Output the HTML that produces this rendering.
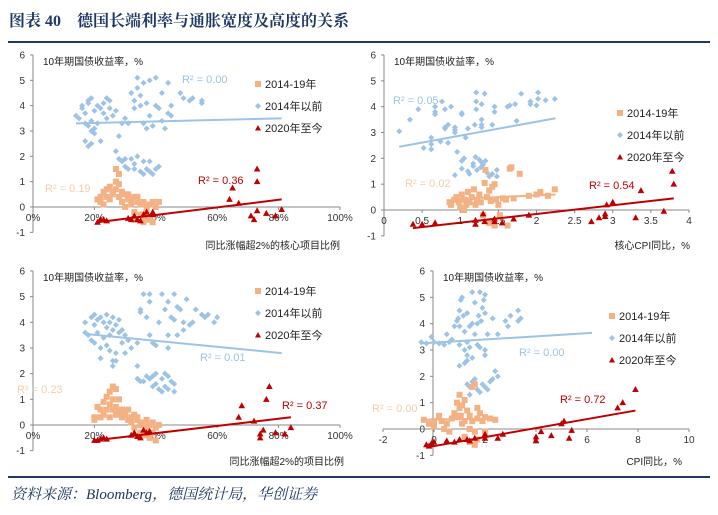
<!DOCTYPE html>
<html><head><meta charset="utf-8"><style>
html,body{margin:0;padding:0;background:#fff;width:718px;height:515px;overflow:hidden}
svg{display:block;font-family:"Liberation Sans","Noto Sans CJK SC",sans-serif}
</style></head><body>
<svg id="chart" width="718" height="515" viewBox="0 0 718 515">
<text x="9" y="26" font-size="16" font-weight="bold" fill="#1f3864" font-family="'Liberation Serif','Noto Serif CJK SC',serif">图表 40　德国长端利率与通胀宽度及高度的关系</text>
<rect x="8" y="41" width="702" height="2" fill="#1f3864"/>
<rect x="8" y="476" width="702" height="2" fill="#1f3864"/>
<text x="11" y="499" font-size="15" font-style="italic" fill="#1f3864" font-family="'Liberation Serif','Noto Serif CJK SC',serif">资料来源：Bloomberg，德国统计局，华创证券</text>
<g id="plots"></g>
</svg>
<script>
const yTicks=[-1,0,1,2,3,4,5,6];
const pctTicks=[0,20,40,60,80,100];
const coreTicks=[0,0.5,1,1.5,2,2.5,3,3.5,4];
const cpiTicks=[-2,0,2,4,6,8,10];
const legendLabels=["2014-19年","2014年以前","2020年至今"];

const p1Blue=[[14,3.6],[15,3.5],[16,3.9],[16,4.0],[17,3.7],[17,3.3],[18,4.1],[18,4.2],[18,3.2],[19,4.3],[19,3.0],[19,3.4],[20,3.8],[20,2.9],[20,3.1],[21,4.0],[21,3.3],[22,3.9],[22,2.6],[23,3.7],[23,4.1],[24,4.3],[24,3.5],[25,3.9],[25,4.2],[26,3.6],[27,3.8],[28,2.8],[27,2.2],[18,2.4],[17,2.6],[19,2.5],[29,3.3],[30,3.5],[31,3.3],[32,4.5],[33,4.2],[34,5.1],[34,4.7],[35,4.0],[36,4.9],[36,3.3],[37,4.1],[38,3.6],[38,5.0],[39,3.2],[40,4.0],[40,5.1],[41,3.9],[42,3.4],[43,3.1],[44,4.9],[45,3.6],[45,4.0],[48,4.5],[49,4.3],[51,4.2],[52,4.3],[55,4.1],[55,4.2],[33,3.9],[35,4.4],[37,3.1],[42,4.5],[44,3.7],[28,1.9],[29,1.8],[30,1.6],[31,1.5],[32,1.9],[33,1.5],[34,2.0],[35,1.4],[36,1.8],[37,1.5],[38,1.4],[38,1.8],[39,1.3],[40,1.5],[41,1.6],[36,1.3],[30,1.9],[33,1.7]];
const p1Orange=[[21,0.3],[22,0.2],[22,0.4],[23,0.1],[23,0.6],[24,0.7],[24,0.4],[25,0.8],[25,0.3],[26,0.6],[26,0.5],[27,1.0],[27,1.5],[27,0.7],[28,1.3],[28,0.9],[28,0.4],[29,0.6],[29,0.2],[30,0.5],[30,0.0],[31,0.3],[31,0.5],[32,0.1],[32,0.3],[33,0.4],[33,-0.2],[34,0.2],[34,0.4],[35,-0.3],[35,0.1],[36,-0.4],[36,0.2],[37,-0.1],[37,0.0],[38,0.1],[38,-0.5],[39,0.2],[39,-0.6],[40,0.0],[41,0.2],[33,-0.5],[36,-0.6]];
const p1Red=[[21,-0.6],[22,-0.5],[23,-0.5],[24,-0.55],[31,-0.45],[32,-0.5],[33,-0.35],[34,-0.5],[35,-0.55],[36,-0.3],[37,-0.2],[39,-0.3],[39,-0.2],[64,0.3],[65,0.75],[67,0.15],[71,-0.35],[72,-0.5],[73,1.5],[73,1.0],[73,-0.15],[76,-0.25],[79,-0.35],[81,-0.1]];
const p1BlueTrend=[[14,3.3],[81,3.5]];
const p1RedTrend=[[21,-0.6],[81,0.3]];

const p2Blue=[[0.2,3.05],[0.34,3.5],[0.45,3.9],[0.52,2.4],[0.62,2.35],[0.62,2.55],[0.62,2.8],[0.67,3.7],[0.67,3.8],[0.67,4.0],[0.74,2.65],[0.8,3.2],[0.8,3.15],[0.8,3.9],[0.76,4.2],[0.84,3.3],[0.84,2.6],[0.88,4.0],[0.93,3.0],[0.93,3.1],[0.93,3.2],[0.96,2.25],[1.02,3.75],[1.02,3.7],[1.07,2.8],[1.1,3.15],[1.19,3.3],[1.21,4.55],[1.21,4.2],[1.21,3.9],[1.28,4.1],[1.28,3.5],[1.28,3.3],[1.28,3.2],[1.32,4.5],[1.42,3.3],[1.45,3.8],[1.45,4.0],[1.62,4.0],[1.65,4.05],[1.72,4.1],[1.74,3.45],[1.8,4.5],[1.92,4.2],[1.92,4.1],[2.0,4.05],[2.02,4.55],[2.02,4.3],[2.12,4.25],[2.24,4.3],[0.93,1.35],[1.02,1.6],[1.02,1.9],[1.05,2.0],[1.1,1.5],[1.12,1.4],[1.17,1.7],[1.17,1.8],[1.2,2.05],[1.22,1.55],[1.25,1.95],[1.28,1.85],[1.3,1.75],[1.33,1.9],[1.35,1.45],[1.38,1.3],[1.42,1.4],[1.48,1.3],[1.48,1.55],[1.27,1.65]];
const p2Orange=[[0.86,0.3],[0.88,0.2],[0.92,0.4],[0.95,0.5],[0.98,0.3],[1.0,0.1],[1.02,0.6],[1.05,0.4],[1.05,0.0],[1.08,0.2],[1.1,0.7],[1.12,0.3],[1.15,0.5],[1.18,0.8],[1.2,0.2],[1.22,0.4],[1.25,0.6],[1.27,0.3],[1.3,-0.2],[1.32,1.05],[1.33,1.55],[1.35,0.5],[1.38,0.75],[1.4,0.35],[1.42,0.9],[1.45,1.0],[1.47,0.4],[1.5,0.2],[1.52,-0.2],[1.56,0.45],[1.6,0.4],[1.62,-0.6],[1.65,1.6],[1.67,1.65],[1.7,0.45],[1.78,1.4],[1.9,0.55],[2.0,0.6],[2.05,0.7],[2.15,0.55],[2.24,0.8],[1.38,-0.5],[1.45,-0.6]];
const p2Red=[[0.38,-0.55],[0.5,-0.55],[0.67,-0.5],[1.2,-0.4],[1.2,-0.55],[1.3,-0.15],[1.32,-0.45],[1.45,-0.35],[1.45,-0.45],[1.55,-0.5],[1.7,-0.35],[1.9,-0.2],[2.72,-0.45],[2.82,-0.3],[2.9,-0.25],[2.9,-0.15],[2.92,0.2],[3.0,0.3],[3.3,-0.3],[3.37,0.75],[3.67,-0.05],[3.78,1.5],[3.8,1.0]];
const p2BlueTrend=[[0.2,2.45],[2.25,3.55]];
const p2OrangeTrend=[[0.9,0.42],[2.25,0.6]];
const p2RedTrend=[[0.38,-0.7],[3.8,0.45]];

const p3Blue=[[17,4.0],[17,3.6],[18,3.5],[19,4.2],[19,3.3],[20,3.9],[20,4.3],[20,3.2],[21,4.1],[21,3.6],[22,4.2],[22,3.0],[22,2.6],[23,4.0],[23,3.4],[24,4.3],[24,3.8],[24,3.1],[25,4.0],[25,3.5],[25,2.9],[26,4.2],[26,3.7],[27,3.9],[27,2.5],[28,3.6],[28,4.1],[29,3.7],[29,3.2],[30,3.5],[30,2.8],[31,3.3],[32,3.0],[26,2.3],[26,2.5],[27,2.8],[34,3.2],[35,4.4],[35,4.5],[36,5.1],[37,4.2],[38,4.8],[38,5.1],[39,3.2],[40,3.1],[41,4.0],[42,5.1],[43,4.5],[44,3.5],[44,3.0],[45,4.2],[46,5.1],[46,4.1],[47,4.6],[47,3.5],[48,4.5],[49,4.0],[49,3.7],[50,4.9],[51,3.9],[52,4.0],[53,4.5],[55,4.3],[56,4.2],[57,4.3],[59,4.0],[60,4.2],[38,3.5],[44,4.8],[34,2.3],[34,1.8],[35,1.7],[36,1.7],[37,1.9],[38,1.8],[39,1.5],[40,2.0],[40,1.6],[41,1.4],[42,1.8],[42,1.3],[43,1.5],[44,1.9],[44,1.4],[45,1.7],[46,1.6],[46,1.3],[39,1.9],[43,2.0]];
const p3Orange=[[20,0.3],[20,0.2],[21,0.7],[22,0.3],[22,0.6],[23,0.9],[23,0.4],[24,1.1],[24,0.6],[25,1.3],[25,0.8],[25,0.3],[26,1.5],[26,1.0],[26,0.6],[27,1.4],[27,0.7],[27,0.4],[28,1.0],[28,0.5],[29,0.6],[29,0.3],[30,0.4],[30,0.5],[31,0.2],[31,0.6],[32,0.3],[32,0.1],[33,0.4],[33,-0.1],[34,0.3],[34,0.2],[35,0.0],[35,-0.3],[36,0.1],[36,-0.4],[37,0.2],[37,-0.1],[38,0.0],[39,0.1],[39,-0.3],[40,-0.1],[40,-0.6],[41,0.0],[38,-0.5]];
const p3Red=[[20,-0.6],[21,-0.6],[22,-0.55],[23,-0.5],[24,-0.55],[32,-0.4],[33,-0.3],[34,-0.45],[35,-0.5],[36,-0.2],[37,-0.3],[38,-0.25],[67,0.3],[68,0.75],[72,0.15],[74,-0.35],[74,-0.5],[75,-0.2],[76,1.0],[77,1.5],[79,-0.3],[82,-0.35],[84,-0.1]];
const p3BlueTrend=[[17,3.55],[81,2.8]];
const p3RedTrend=[[20,-0.6],[84,0.3]];

const p4Blue=[[-0.5,3.3],[-0.3,3.25],[-0.1,3.5],[0,3.3],[0.2,3.25],[0.4,3.2],[0.5,3.6],[0.6,3.3],[0.7,3.4],[0.8,3.9],[0.9,4.1],[0.95,4.2],[1.0,4.5],[1.0,3.9],[1.05,4.9],[1.1,5.0],[1.15,4.3],[1.2,3.7],[1.3,4.4],[1.3,3.3],[1.4,3.9],[1.5,5.2],[1.5,4.0],[1.6,3.6],[1.6,4.8],[1.7,4.0],[1.75,4.3],[1.8,5.2],[1.85,4.1],[1.9,4.6],[1.95,4.9],[2.0,5.1],[2.0,4.4],[2.1,3.6],[2.3,4.2],[2.5,3.6],[2.8,4.1],[3.0,4.3],[3.3,4.5],[3.4,4.2],[3.3,4.1],[2.9,3.9],[1.0,3.2],[1.2,3.0],[1.4,3.1],[1.7,3.2],[1.8,3.1],[2.0,3.0],[2.0,2.8],[1.5,2.7],[1.2,2.5],[1.0,2.4],[1.3,2.6],[1.3,2.8],[1.3,1.7],[1.4,1.6],[1.5,1.8],[1.6,1.9],[1.7,1.5],[1.8,1.4],[1.9,1.7],[2.0,1.6],[2.2,1.8],[2.3,1.9],[2.4,2.2],[2.5,2.0],[2.1,1.5],[1.4,1.3]];
const p4Orange=[[-0.4,0.35],[-0.2,0.2],[0,0.3],[0,0.1],[0.2,0.5],[0.3,0.3],[0.4,0.0],[0.5,0.2],[0.6,-0.1],[0.7,0.4],[0.8,0.6],[0.9,1.0],[1.0,1.3],[1.0,0.8],[1.05,0.5],[1.1,0.2],[1.2,1.1],[1.2,0.3],[1.3,0.7],[1.4,0.5],[1.4,0.0],[1.5,1.6],[1.5,0.3],[1.6,1.7],[1.6,-0.1],[1.7,0.8],[1.7,0.4],[1.8,0.6],[1.9,0.3],[2.0,0.45],[2.0,-0.1],[2.2,0.4],[2.4,0.35],[1.4,-0.5],[1.6,-0.6],[1.7,-0.4],[1.2,-0.3],[0.9,0.5],[1.1,0.9]];
const p4Red=[[-0.3,-0.6],[-0.2,-0.65],[-0.1,-0.55],[0,-0.5],[0.5,-0.45],[0.8,-0.5],[1.0,-0.4],[1.3,-0.4],[1.4,-0.45],[1.6,-0.35],[2.0,-0.2],[2.0,-0.35],[2.5,-0.35],[2.7,-0.2],[4.0,-0.45],[4.0,-0.3],[4.2,-0.1],[4.6,-0.25],[5.0,0.2],[5.1,0.3],[5.3,-0.35],[5.4,-0.05],[7.2,0.8],[7.4,1.0],[7.9,1.5]];
const p4BlueTrend=[[-0.5,3.25],[6.2,3.65]];
const p4OrangeTrend=[[-0.4,0.35],[2.4,0.4]];
const p4RedTrend=[[-0.3,-0.7],[7.9,0.7]];

const NS="http://www.w3.org/2000/svg";
const root=document.getElementById('plots');
const BLUE="#9dc3e6",ORANGE="#f4b183",RED="#c00000";
function mk(tag,attrs,parent){const e=document.createElementNS(NS,tag);for(const k in attrs)e.setAttribute(k,attrs[k]);(parent||root).appendChild(e);return e;}

const panels=[
 {id:'p1',ax:33,xl:33,xr:340,xmin:0,xmax:100,ytop:55,yzero:207,xticks:pctTicks,pct:true,title:'同比涨幅超2%的核心项目比例',tx:340,ty:249,lx:258,ly:84,
  blue:p1Blue,orange:p1Orange,red:p1Red,bt:p1BlueTrend,ot:null,rt:p1RedTrend,
  rb:[182,83,'R² = 0.00'],ro:[45,192,'R² = 0.19'],rr:[198,184,'R² = 0.36']},
 {id:'p2',ax:384,xl:384,xr:689,xmin:0,xmax:4,ytop:55,yzero:210,xticks:coreTicks,pct:false,title:'核心CPI同比，%',tx:690,ty:249,lx:620,ly:113,
  blue:p2Blue,orange:p2Orange,red:p2Red,bt:p2BlueTrend,ot:p2OrangeTrend,rt:p2RedTrend,
  rb:[393,104,'R² = 0.05'],ro:[405,187,'R² = 0.02'],rr:[589,189,'R² = 0.54']},
 {id:'p3',ax:33,xl:33,xr:340,xmin:0,xmax:100,ytop:271,yzero:425,xticks:pctTicks,pct:true,title:'同比涨幅超2%的项目比例',tx:344,ty:465,lx:258,ly:291,
  blue:p3Blue,orange:p3Orange,red:p3Red,bt:p3BlueTrend,ot:null,rt:p3RedTrend,
  rb:[200,361,'R² = 0.01'],ro:[17,393,'R² = 0.23'],rr:[282,409,'R² = 0.37']},
 {id:'p4',ax:433,xl:383,xr:689,xmin:-2,xmax:10,ytop:271,yzero:429,xticks:cpiTicks,pct:false,title:'CPI同比，%',tx:682,ty:465,lx:612,ly:316,
  blue:p4Blue,orange:p4Orange,red:p4Red,bt:p4BlueTrend,ot:p4OrangeTrend,rt:p4RedTrend,
  rb:[519,356,'R² = 0.00'],ro:[372,412,'R² = 0.00'],rr:[560,403,'R² = 0.72']}
];

panels.forEach(p=>{
  const g=mk('g',{});
  
  
  const unit=(p.yzero-p.ytop)/6;
  const X=v=>p.xl+(v-p.xmin)/(p.xmax-p.xmin)*(p.xr-p.xl);
  const Y=v=>p.yzero-v*unit;
  // y axis
  const ya=mk('line',{x1:p.ax,x2:p.ax,y1:Y(6),y2:Y(-1),stroke:'#888','stroke-width':1},g);
  
  
  yTicks.forEach(t=>{
    mk('line',{x1:p.ax-3,x2:p.ax,y1:Y(t),y2:Y(t),stroke:'#888'},g);
    const tx=mk('text',{x:p.ax-8,y:Y(t)+3.5,'font-size':10,'text-anchor':'end',fill:'#333'},g);
    tx.textContent=t;
    
    
  });
  const xa=mk('line',{x1:p.xl,x2:p.xr,y1:Y(0),y2:Y(0),stroke:'#888'},g);
  
  
  p.xticks.forEach(t=>{
    mk('line',{x1:X(t),x2:X(t),y1:Y(0),y2:Y(0)+3,stroke:'#888'},g);
    const tx=mk('text',{x:X(t),y:Y(0)+14,'font-size':10,'text-anchor':'middle',fill:'#333'},g);
    tx.textContent=p.pct?t+'%':t;
    
    
  });
  const yt=mk('text',{x:p.ax+10,y:p.ytop+10,'font-size':10,fill:'#222'},g);
  yt.textContent='10年期国债收益率，%';
  
  
  const xt=mk('text',{x:p.tx,y:p.ty,'font-size':10,'text-anchor':'end',fill:'#222'},g);
  xt.textContent=p.title;
  
  
  // points
  p.blue.forEach(d=>{const m=mk('path',{d:`M${X(d[0])},${Y(d[1])-3}l3,3l-3,3l-3,-3z`,fill:BLUE},g);
    
    });
  p.orange.forEach(d=>{const m=mk('rect',{x:X(d[0])-3,y:Y(d[1])-3,width:6,height:6,fill:ORANGE},g);
    
    });
  p.red.forEach(d=>{const m=mk('path',{d:`M${X(d[0])},${Y(d[1])-3.5}l3.3,6l-6.6,0z`,fill:RED},g);
    
    });
  // trends
  [[p.bt,BLUE,'trend-pre-2014'],[p.ot,ORANGE,'trend-2014-19'],[p.rt,RED,'trend-2020-on']].forEach(a=>{
    if(!a[0])return;
    const l=mk('line',{x1:X(a[0][0][0]),y1:Y(a[0][0][1]),x2:X(a[0][1][0]),y2:Y(a[0][1][1]),stroke:a[1],'stroke-width':2},g);
    
    
  });
  [[p.rb,BLUE,'r2-pre-2014'],[p.ro,'#f8cbad','r2-2014-19'],[p.rr,RED,'r2-2020-on']].forEach(a=>{
    const t=mk('text',{x:a[0][0],y:a[0][1],'font-size':11,fill:a[1]},g);
    t.textContent=a[0][2];
    
    
  });
  // legend
  const lg=mk('g',{},g);
  
  
  legendLabels.forEach((lab,i)=>{
    const cy=p.ly+i*22;
    if(i===0)mk('rect',{x:p.lx-3,y:cy-3,width:6,height:6,fill:ORANGE},lg);
    if(i===1)mk('path',{d:`M${p.lx},${cy-3}l3,3l-3,3l-3,-3z`,fill:BLUE},lg);
    if(i===2)mk('path',{d:`M${p.lx},${cy-3}l3,5.5l-6,0z`,fill:RED},lg);
    const t=mk('text',{x:p.lx+7,y:cy+4,'font-size':11,fill:'#222'},lg);
    t.textContent=lab;
    
    
  });
});
</script>
</body></html>
